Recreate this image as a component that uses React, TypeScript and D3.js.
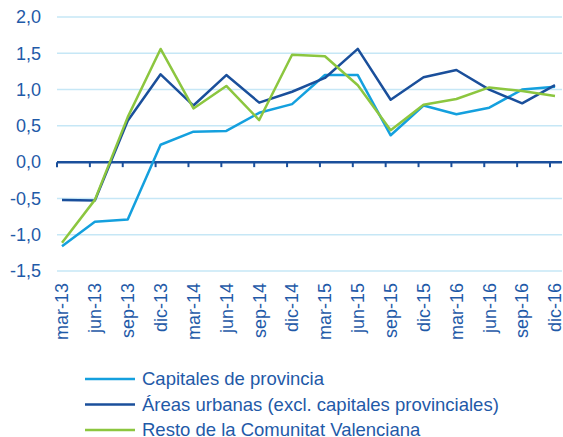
import * as d3 from "d3"

const categories = [
  "mar-13", "jun-13", "sep-13", "dic-13",
  "mar-14", "jun-14", "sep-14", "dic-14",
  "mar-15", "jun-15", "sep-15", "dic-15",
  "mar-16", "jun-16", "sep-16", "dic-16",
]

const capitales = [-1.16, -0.82, -0.79, 0.24, 0.42, 0.43, 0.68, 0.8, 1.2, 1.2, 0.37, 0.78, 0.66, 0.75, 1.0, 1.04]
const areasUrbanas = [-0.52, -0.53, 0.57, 1.21, 0.78, 1.2, 0.82, 0.97, 1.16, 1.56, 0.86, 1.17, 1.27, 1.0, 0.81, 1.06]
const resto = [-1.11, -0.52, 0.62, 1.56, 0.74, 1.05, 0.58, 1.48, 1.46, 1.06, 0.44, 0.79, 0.87, 1.03, 0.98, 0.91]

const yTicks = [-1.5, -1.0, -0.5, 0, 0.5, 1.0, 1.5, 2.0]

const series = [
  { name: "Capitales de provincia", values: capitales, color: "#14a0de" },
  { name: "Áreas urbanas (excl. capitales provinciales)", values: areasUrbanas, color: "#1a4f9b" },
  { name: "Resto de la Comunitat Valenciana", values: resto, color: "#8cc63f" },
]

const width = 563
const height = 437
const textColor = "#1f5aa8"

export default function App() {
  const x = d3.scalePoint<string>().domain(categories).range([62, 555])
  const y = d3.scaleLinear().domain([-1.5, 2.0]).range([271, 17])
  const gridLeft = 57
  const gridRight = 562

  const line = d3
    .line<number>()
    .x((_, i) => x(categories[i]) as number)
    .y(d => y(d))

  const fmt = (v: number) => v.toFixed(1).replace(".", ",")

  return (
    <svg
      width={width}
      height={height}
      style={{ position: "absolute", left: 0, top: 0, fontFamily: "'Liberation Sans', Arial, sans-serif" }}
    >
      <rect width={width} height={height} fill="#fff" />
      {/* gridlines */}
      {yTicks.filter(t => t !== 0).map(t => (
        <line key={t} x1={gridLeft} x2={gridRight} y1={y(t)} y2={y(t)} stroke="#c6e7f6" strokeWidth={1.5} />
      ))}
      {/* y labels */}
      {yTicks.map(t => (
        <text key={t} x={41} y={y(t)} dy="0.35em" textAnchor="end" fontSize={18} fill={textColor}>
          {fmt(t)}
        </text>
      ))}
      {/* zero axis */}
      <line x1={gridLeft} x2={gridRight} y1={y(0)} y2={y(0)} stroke="#1a4f9b" strokeWidth={2.5} />
      {categories.map(c => (
        <line key={c} x1={(x(c) as number) - 5} x2={(x(c) as number) - 5} y1={y(0)} y2={y(0) + 5} stroke="#1a4f9b" strokeWidth={2} />
      ))}
      {/* x labels */}
      {categories.map(c => (
        <text
          key={c}
          transform={`translate(${x(c) as number},283) rotate(-90)`}
          textAnchor="end"
          dy="0.35em"
          fontSize={18}
          fill={textColor}
        >
          {c}
        </text>
      ))}
      {/* lines */}
      {series.map(s => (
        <path key={s.name} d={line(s.values) ?? ""} fill="none" stroke={s.color} strokeWidth={2.5} strokeLinejoin="round" />
      ))}
      {/* legend */}
      {series.map((s, i) => (
        <g key={s.name} transform={`translate(85,${379 + i * 25.5})`}>
          <line x1={0} x2={50} y1={0} y2={0} stroke={s.color} strokeWidth={2.5} />
          <text x={57} y={0} dy="0.35em" fontSize={18.5} fill={textColor}>
            {s.name}
          </text>
        </g>
      ))}
    </svg>
  )
}
